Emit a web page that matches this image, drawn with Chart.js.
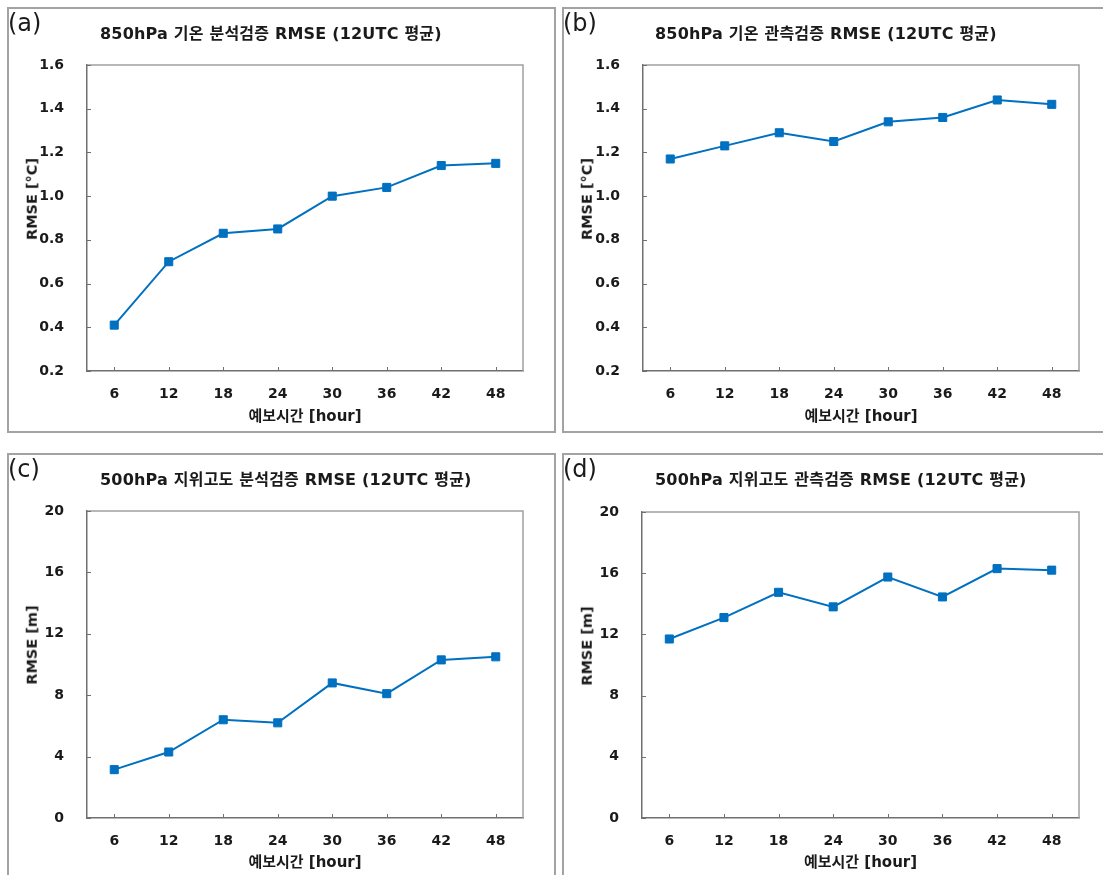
<!DOCTYPE html>
<html><head><meta charset="utf-8">
<script src="https://cdn.jsdelivr.net/npm/chart.js@4.4.1/dist/chart.umd.min.js"></script>
<style>
html,body{margin:0;padding:0;background:#fff;overflow:hidden;width:1103px;height:875px;position:relative;}
.panel{position:absolute;border:2px solid #a3a3a3;box-sizing:border-box;}
.lbl{position:absolute;font-family:'DejaVu Sans',sans-serif;font-size:24px;color:#1a1a1a;line-height:1;}
.ttl{position:absolute;font-family:'DejaVu Sans','Noto Sans CJK KR',sans-serif;font-weight:bold;font-size:16px;letter-spacing:0.2px;color:#1a1a1a;white-space:nowrap;line-height:1;transform:translateY(-50%);}
.ytl{position:absolute;font-family:'DejaVu Sans','Noto Sans CJK KR',sans-serif;font-weight:bold;font-size:14.5px;color:#1a1a1a;white-space:nowrap;line-height:1;transform:translate(-50%,-50%) rotate(-90deg);}
canvas{position:absolute;}
</style>
</head><body>
<script>
// ---- data ----
const hours = ['6','12','18','24','30','36','42','48'];
const tempAnalysisRMSE = [0.41, 0.70, 0.83, 0.85, 1.00, 1.04, 1.14, 1.15];
const tempObsRMSE      = [1.17, 1.23, 1.29, 1.25, 1.34, 1.36, 1.44, 1.42];
const hgtAnalysisRMSE  = [3.15, 4.3, 6.4, 6.2, 8.8, 8.1, 10.3, 10.5];
const hgtObsRMSE       = [11.7, 13.1, 14.75, 13.8, 15.75, 14.45, 16.3, 16.2];
const tempTicks = [0.2, 0.4, 0.6, 0.8, 1.0, 1.2, 1.4, 1.6];
const hgtTicks  = [0, 4, 8, 12, 16, 20];
const panelLetters = ['(a)', '(b)', '(c)', '(d)'];
const panelTitles = [
  '850hPa 기온 분석검증 RMSE (12UTC 평균)',
  '850hPa 기온 관측검증 RMSE (12UTC 평균)',
  '500hPa 지위고도 분석검증 RMSE (12UTC 평균)',
  '500hPa 지위고도 관측검증 RMSE (12UTC 평균)'
];
const yTitles = ['RMSE [°C]', 'RMSE [°C]', 'RMSE [m]', 'RMSE [m]'];
const xTitle = '예보시간 [hour]';

// ---- layout (page pixels) ----
const layouts = [
  {box:[7,7,549,426],   cv:[7,7,548,425],   plot:[87,65,523,371]},
  {box:[562,7,560,426], cv:[562,7,545,425], plot:[643,65,1079,371]},
  {box:[7,453,549,440], cv:[7,453,548,425], plot:[87,511,523,818]},
  {box:[562,453,560,440], cv:[562,453,545,425], plot:[642,512,1079,818]}
];
const series = [tempAnalysisRMSE, tempObsRMSE, hgtAnalysisRMSE, hgtObsRMSE];
const tickSets = [tempTicks, tempTicks, hgtTicks, hgtTicks];

Chart.defaults.font.family = "'DejaVu Sans','Noto Sans CJK KR',sans-serif";
Chart.defaults.color = '#1a1a1a';

const framePlugin = {
  id: 'frame',
  beforeDatasetsDraw(chart) {
    const {ctx, chartArea: {left, top, right, bottom}, scales: {x, y}} = chart;
    ctx.save();
    ctx.strokeStyle = '#a0a0a0';
    ctx.lineWidth = 1.5;
    ctx.beginPath();
    ctx.moveTo(left, top); ctx.lineTo(right, top); ctx.lineTo(right, bottom);
    ctx.stroke();
    ctx.strokeStyle = '#707070';
    ctx.lineWidth = 1;
    ctx.beginPath();
    x.ticks.forEach((t, i) => {
      const px = Math.round(x.getPixelForTick(i)) + 0.5;
      ctx.moveTo(px, bottom); ctx.lineTo(px, bottom - 4);
    });
    y.ticks.forEach((t, i) => {
      const py = Math.round(y.getPixelForTick(i)) + 0.5;
      ctx.moveTo(left, py); ctx.lineTo(left + 4, py);
    });
    ctx.stroke();
    ctx.restore();
  }
};

layouts.forEach((L, k) => {
  const box = document.createElement('div');
  box.className = 'panel';
  Object.assign(box.style, {left: L.box[0]+'px', top: L.box[1]+'px', width: L.box[2]+'px', height: L.box[3]+'px'});
  document.body.appendChild(box);

  const cv = document.createElement('canvas');
  cv.width = L.cv[2]; cv.height = L.cv[3];
  Object.assign(cv.style, {left: L.cv[0]+'px', top: L.cv[1]+'px', width: L.cv[2]+'px', height: L.cv[3]+'px'});
  document.body.appendChild(cv);

  const lbl = document.createElement('div');
  lbl.className = 'lbl'; lbl.textContent = panelLetters[k];
  Object.assign(lbl.style, {left: (L.box[0]+1)+'px', top: (L.box[1]+4)+'px'});
  document.body.appendChild(lbl);

  const ttl = document.createElement('div');
  ttl.className = 'ttl'; ttl.textContent = panelTitles[k];
  Object.assign(ttl.style, {left: (L.box[0]+93)+'px', top: (L.box[1]+27)+'px'});
  document.body.appendChild(ttl);

  const yt = document.createElement('div');
  yt.className = 'ytl'; yt.textContent = yTitles[k];
  Object.assign(yt.style, {left: (L.box[0]+25)+'px', top: (L.plot[1]+134)+'px'});
  document.body.appendChild(yt);

  const plotL = L.plot[0]-L.cv[0], plotT = L.plot[1]-L.cv[1], plotR = L.plot[2]-L.cv[0], plotB = L.plot[3]-L.cv[1];
  const ticks = tickSets[k];
  const isTemp = k < 2;

  new Chart(cv, {
    type: 'line',
    data: {
      labels: hours,
      datasets: [{
        data: series[k],
        borderColor: '#0070C0',
        backgroundColor: '#0070C0',
        borderWidth: 2,
        pointStyle: 'rect',
        pointRadius: 5.7,
        pointBorderWidth: 1,
        pointBackgroundColor: '#0070C0',
        pointBorderColor: '#0070C0',
        tension: 0,
        fill: false
      }]
    },
    options: {
      responsive: false,
      animation: false,
      devicePixelRatio: 1,
      layout: {padding: {left: 0, top: plotT, right: L.cv[2]-plotR, bottom: 0}},
      plugins: {legend: {display: false}, tooltip: {enabled: false}, title: {display: false}},
      scales: {
        x: {
          type: 'category',
          offset: true,
          grid: {display: false},
          border: {display: true, color: '#707070', width: 1.5},
          ticks: {autoSkip: false, maxRotation: 0, padding: 7, font: {size: 14, weight: 'bold'}, color: '#1a1a1a'},
          title: {display: true, text: xTitle, font: {size: 15, weight: 'bold'}, color: '#1a1a1a', padding: {top: 0, bottom: 6}},
          afterFit(scale) { scale.height = L.cv[3] - plotB; }
        },
        y: {
          min: ticks[0], max: ticks[ticks.length-1],
          grid: {display: false},
          border: {display: true, color: '#707070', width: 1.5},
          ticks: {padding: 15, font: {size: 14, weight: 'bold'}, color: '#1a1a1a',
                  callback: v => isTemp ? Number(v).toFixed(1) : String(v)},
          afterBuildTicks(scale) { scale.ticks = ticks.map(v => ({value: v})); },
          afterFit(scale) { scale.width = plotL; }
        }
      }
    },
    plugins: [framePlugin]
  });
});
</script>
</body></html>
